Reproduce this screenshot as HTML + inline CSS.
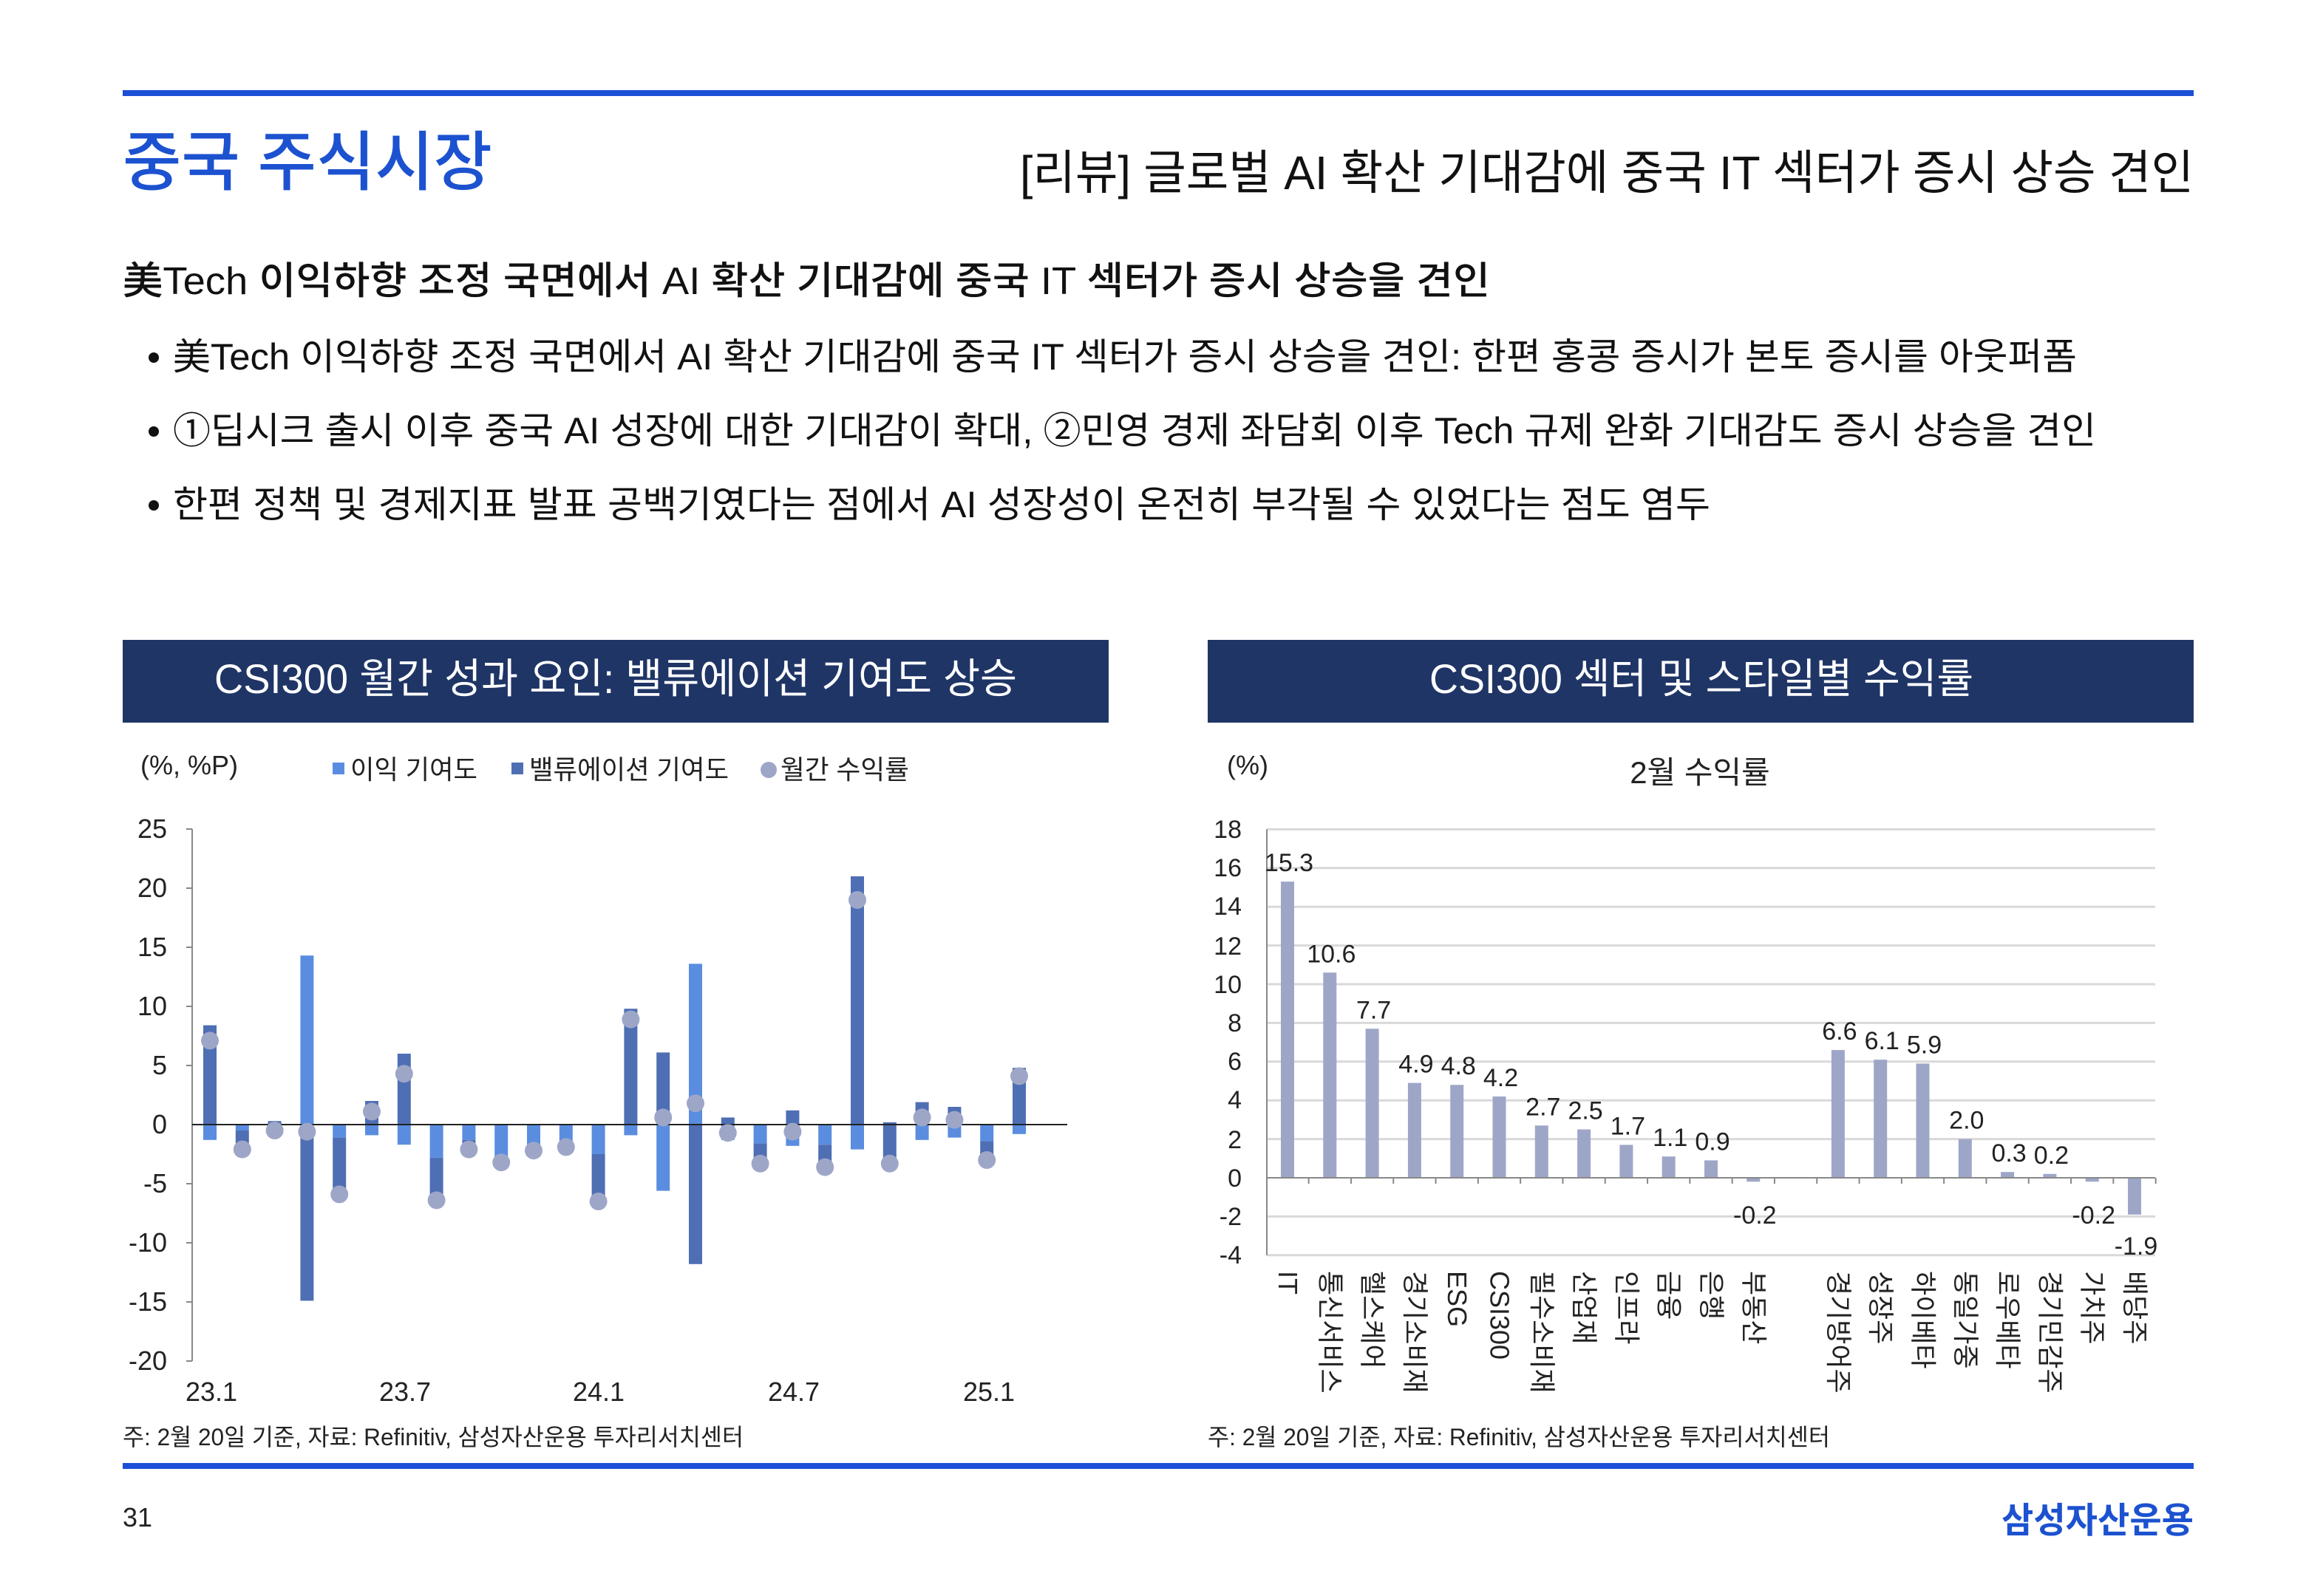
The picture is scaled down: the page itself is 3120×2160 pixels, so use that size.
<!DOCTYPE html>
<html><head><meta charset="utf-8"><style>html,body{margin:0;padding:0;background:#fff}svg{display:block}text{font-family:"Liberation Sans","Noto Sans CJK KR",sans-serif}</style></head>
<body>
<svg width="3120" height="2160" viewBox="0 0 1560 1080" xmlns="http://www.w3.org/2000/svg">
<rect x="83" y="61" width="1401" height="4" fill="#1a4fd6"/>
<text x="83" y="125" font-size="44" fill="#1c52d0" font-weight="500" textLength="250" lengthAdjust="spacingAndGlyphs">중국 주식시장</text>
<text x="690" y="128" font-size="32" fill="#111" textLength="794" lengthAdjust="spacingAndGlyphs">[리뷰] 글로벌 AI 확산 기대감에 중국 IT 섹터가 증시 상승 견인</text>
<text x="83" y="199" font-size="26" fill="#111" font-weight="500" textLength="925" lengthAdjust="spacingAndGlyphs">美Tech 이익하향 조정 국면에서 AI 확산 기대감에 중국 IT 섹터가 증시 상승을 견인</text>
<g font-size="25" fill="#111">
<circle cx="104" cy="242" r="3.5" fill="#111"/><text x="117" y="250" textLength="1288" lengthAdjust="spacingAndGlyphs">美Tech 이익하향 조정 국면에서 AI 확산 기대감에 중국 IT 섹터가 증시 상승을 견인: 한편 홍콩 증시가 본토 증시를 아웃퍼폼</text>
<circle cx="104" cy="292" r="3.5" fill="#111"/><text x="117" y="300" textLength="1301" lengthAdjust="spacingAndGlyphs">①딥시크 출시 이후 중국 AI 성장에 대한 기대감이 확대, ②민영 경제 좌담회 이후 Tech 규제 완화 기대감도 증시 상승을 견인</text>
<circle cx="104" cy="342" r="3.5" fill="#111"/><text x="117" y="350" textLength="1040" lengthAdjust="spacingAndGlyphs">한편 정책 및 경제지표 발표 공백기였다는 점에서 AI 성장성이 온전히 부각될 수 있었다는 점도 염두</text>
</g>
<rect x="83" y="433" width="667" height="56" fill="#1f3566"/>
<rect x="817" y="433" width="667" height="56" fill="#1f3566"/>
<text x="145" y="469" font-size="28" fill="#fff" textLength="543" lengthAdjust="spacingAndGlyphs">CSI300 월간 성과 요인: 밸류에이션 기여도 상승</text>
<text x="967" y="469" font-size="28" fill="#fff" textLength="368" lengthAdjust="spacingAndGlyphs">CSI300 섹터 및 스타일별 수익률</text>

<!-- Left chart -->
<g font-size="18" fill="#222">
<text x="95" y="524">(%, %P)</text>
<rect x="225" y="516" width="8" height="8" fill="#5a8ddf"/><text x="237" y="527" textLength="86" lengthAdjust="spacingAndGlyphs">이익 기여도</text>
<rect x="346" y="516" width="8" height="8" fill="#4f6fb4"/><text x="358" y="527" textLength="135" lengthAdjust="spacingAndGlyphs">밸류에이션 기여도</text>
<circle cx="520" cy="521" r="5.5" fill="#9ea6c8"/><text x="528" y="527" textLength="87" lengthAdjust="spacingAndGlyphs">월간 수익률</text>
<g text-anchor="end">
<text x="113" y="567">25</text><text x="113" y="607">20</text><text x="113" y="647">15</text><text x="113" y="687">10</text><text x="113" y="727">5</text><text x="113" y="767">0</text><text x="113" y="807">-5</text><text x="113" y="847">-10</text><text x="113" y="887">-15</text><text x="113" y="927">-20</text>
</g>
<g text-anchor="middle">
<text x="143" y="948">23.1</text><text x="274" y="948">23.7</text><text x="405" y="948">24.1</text><text x="537" y="948">24.7</text><text x="669" y="948">25.1</text>
</g>
</g>
<line x1="130" y1="561" x2="130" y2="921" stroke="#888" stroke-width="1"/>
<g stroke="#888" stroke-width="1">
<line x1="126" y1="561" x2="130" y2="561"/><line x1="126" y1="601" x2="130" y2="601"/><line x1="126" y1="641" x2="130" y2="641"/><line x1="126" y1="681" x2="130" y2="681"/><line x1="126" y1="721" x2="130" y2="721"/><line x1="126" y1="801" x2="130" y2="801"/><line x1="126" y1="841" x2="130" y2="841"/><line x1="126" y1="881" x2="130" y2="881"/><line x1="126" y1="921" x2="130" y2="921"/>
</g>
<g id="lbars"></g>
<line x1="130" y1="761" x2="722" y2="761" stroke="#222" stroke-width="1"/>
<g id="ldots"></g>

<!-- Right chart -->
<g font-size="18" fill="#222">
<text x="830" y="524">(%)</text>
<text x="1150" y="530" text-anchor="middle" font-size="21">2월 수익률</text>
<g text-anchor="end" font-size="17">
<text x="840" y="567">18</text><text x="840" y="593">16</text><text x="840" y="619">14</text><text x="840" y="646">12</text><text x="840" y="672">10</text><text x="840" y="698">8</text><text x="840" y="724">6</text><text x="840" y="750">4</text><text x="840" y="777">2</text><text x="840" y="803">0</text><text x="840" y="829">-2</text><text x="840" y="855">-4</text>
</g>
</g>
<g id="rchart"></g>

<text x="83" y="978" font-size="16" fill="#222" textLength="420" lengthAdjust="spacingAndGlyphs">주: 2월 20일 기준, 자료: Refinitiv, 삼성자산운용 투자리서치센터</text>
<text x="817" y="978" font-size="16" fill="#222" textLength="421" lengthAdjust="spacingAndGlyphs">주: 2월 20일 기준, 자료: Refinitiv, 삼성자산운용 투자리서치센터</text>
<rect x="83" y="990" width="1401" height="4" fill="#1a4fd6"/>
<text x="83" y="1033" font-size="18" fill="#222">31</text>
<text x="1484" y="1037" font-size="24" fill="#1c52d0" font-weight="bold" text-anchor="end" textLength="130" lengthAdjust="spacingAndGlyphs">삼성자산운용</text>
</svg>
<script>
(function(){
var NS="http://www.w3.org/2000/svg";
function el(p,t,a){var e=document.createElementNS(NS,t);for(var k in a)e.setAttribute(k,a[k]);p.appendChild(e);return e;}
var L="#5a8ddf",D="#4f6fb4";
// [earn, val(pos/neg), ret]
var data=[[-1.3,8.4,7.1],[-0.5,-1.6,-2.1],[-0.8,0.3,-0.5],[14.3,-14.9,-0.6],[-1.1,-4.8,-5.9],[-0.9,2.0,1.1],[-1.7,6.0,4.3],[-2.8,-3.6,-6.4],[-1.3,-0.8,-2.1],[-3.0,-0.2,-3.2],[-2.0,-0.2,-2.2],[-1.5,-0.4,-1.9],[-2.5,-4.0,-6.5],[-0.9,9.8,8.9],[-5.6,6.1,0.6],[13.6,-11.8,1.8],[-1.3,0.6,-0.7],[-1.6,-1.7,-3.3],[-1.8,1.2,-0.6],[-1.7,-1.9,-3.6],[-2.1,21.0,19.0],[0,-3.2,-3.3],[-1.3,1.9,0.6],[-1.1,1.5,0.4],[-1.4,-1.6,-3.0],[-0.8,4.8,4.1]];
var gb=document.getElementById("lbars"),gd=document.getElementById("ldots");
function Y(v){return 761-v*8;}
function seg(x,a,b,c){var y1=Math.min(Y(a),Y(b)),h=Math.abs(Y(a)-Y(b));if(h>0)el(gb,"rect",{x:x-4.5,y:y1,width:9,height:h,fill:c});}
data.forEach(function(d,i){var x=142+i*21.9;var e=d[0],v=d[1];var pos=0,neg=0;
 if(e>=0){seg(x,0,e,L);pos=e;}else{seg(x,0,e,L);neg=e;}
 if(v>=0){seg(x,pos,pos+v,D);}else{seg(x,neg,neg+v,D);}
 if(i==21)seg(x,0,0.2,D);
 el(gd,"circle",{cx:x,cy:Y(d[2]),r:6,fill:"#9ea6c8"});});
var r=document.getElementById("rchart");
function RY(v){return 797-v*13.1;}
for(var g=-4;g<=18;g+=2){if(g==0)continue;el(r,"line",{x1:857,y1:RY(g),x2:1458,y2:RY(g),stroke:"#d9d9d9","stroke-width":1.5});}
el(r,"line",{x1:857,y1:RY(18),x2:857,y2:RY(-4),stroke:"#888","stroke-width":1});
var cats=["IT","통신서비스","헬스케어","경기소비재","ESG","CSI300","필수소비재","산업재","인프라","금융","은행","부동산","","경기방어주","성장주","하이베타","동일가중","로우베타","경기민감주","가치주","배당주"];
var vals=[15.3,10.6,7.7,4.9,4.8,4.2,2.7,2.5,1.7,1.1,0.9,-0.2,null,6.6,6.1,5.9,2.0,0.3,0.2,-0.2,-1.9];
// 21 slots incl gap
var step=(1444-871)/20;
vals.forEach(function(v,i){var x=871+i*step;
 el(r,"line",{x1:x+step/2,y1:797,x2:x+step/2,y2:801,stroke:"#888","stroke-width":1});
 if(v===null)return;
 var y1=Math.min(RY(0),RY(v)),h=Math.abs(RY(0)-RY(v));
 el(r,"rect",{x:x-4.5,y:y1,width:9,height:Math.max(h,1.5),fill:"#9ea6c8"});
 var t=el(r,"text",{x:x+1,y:v>=0?RY(v)-7:(i==20?849:828),"font-size":17,fill:"#222","text-anchor":"middle"});
 t.textContent=v.toFixed(1);
 var c=el(r,"text",{x:0,y:0,"font-size":18,fill:"#222",transform:"translate("+(x-6)+",860) rotate(90)"});
 c.textContent=cats[i];});
el(r,"line",{x1:857,y1:797,x2:1458,y2:797,stroke:"#888","stroke-width":1});
})();
</script>
</body></html>
